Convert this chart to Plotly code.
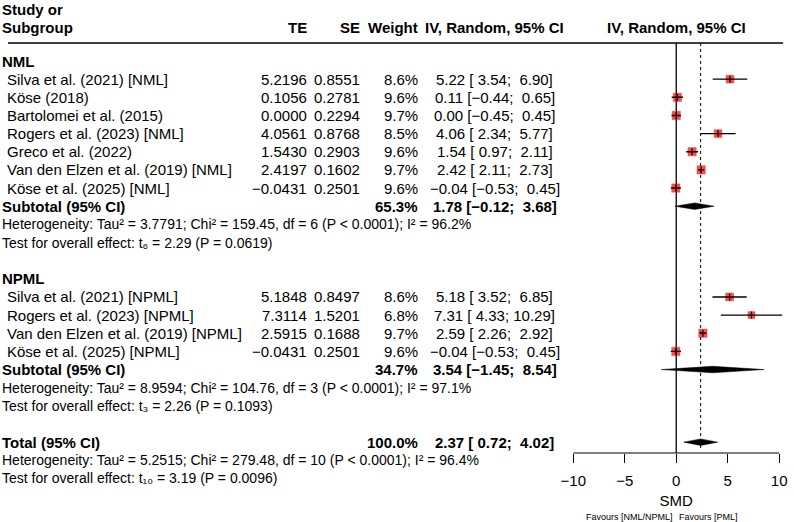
import plotly.graph_objects as go

# ---------------- data ----------------
nml_studies = ["Silva et al. (2021) [NML]", "Köse (2018)", "Bartolomei et al. (2015)",
               "Rogers et al. (2023) [NML]", "Greco et al. (2022)",
               "Van den Elzen et al. (2019) [NML]", "Köse et al. (2025) [NML]"]
nml_te = [5.2196, 0.1056, 0.0000, 4.0561, 1.5430, 2.4197, -0.0431]
nml_se = [0.8551, 0.2781, 0.2294, 0.8768, 0.2903, 0.1602, 0.2501]
nml_w = [8.6, 9.6, 9.7, 8.5, 9.6, 9.7, 9.6]
nml_est = [5.22, 0.11, 0.00, 4.06, 1.54, 2.42, -0.04]
nml_lo = [3.54, -0.44, -0.45, 2.34, 0.97, 2.11, -0.53]
nml_hi = [6.90, 0.65, 0.45, 5.77, 2.11, 2.73, 0.45]

npml_studies = ["Silva et al. (2021) [NPML]", "Rogers et al. (2023) [NPML]",
                "Van den Elzen et al. (2019) [NPML]", "Köse et al. (2025) [NPML]"]
npml_te = [5.1848, 7.3114, 2.5915, -0.0431]
npml_se = [0.8497, 1.5201, 0.1688, 0.2501]
npml_w = [8.6, 6.8, 9.7, 9.6]
npml_est = [5.18, 7.31, 2.59, -0.04]
npml_lo = [3.52, 4.33, 2.26, -0.53]
npml_hi = [6.85, 10.29, 2.92, 0.45]

# pooled: NML subtotal, NPML subtotal, Total
pooled_labels = ["Subtotal (95% CI)", "Subtotal (95% CI)", "Total (95% CI)"]
pooled_w = [65.3, 34.7, 100.0]
pooled_est = [1.78, 3.54, 2.37]
pooled_lo = [-0.12, -1.45, 0.72]
pooled_hi = [3.68, 8.54, 4.02]
het_tau2 = ["3.7791", "8.9594", "5.2515"]
het_chi2 = ["159.45", "104.76", "279.48"]
het_df = ["6", "3", "10"]
het_p = ["< 0.0001", "< 0.0001", "< 0.0001"]
het_i2 = ["96.2%", "97.1%", "96.4%"]
test_t = ["2.29", "2.26", "3.19"]
test_p = ["0.0619", "0.1093", "0.0096"]

x_ticks = [-10, -5, 0, 5, 10]

# ---------------- layout helpers ----------------
W, H = 794, 522
ROW0, DY = 61.0, 18.15          # pixel y of row 0 and row spacing


def row_of(px):
    return (px - ROW0) / DY


def px_x(px):
    return px / W


MINUS = "\u2212"
NB = "\u00a0"
SUB = str.maketrans("0123456789", "₀₁₂₃₄₅₆₇₈₉")


def f2(v):
    return f"{v:.2f}".replace("-", MINUS)


def f4(v):
    return f"{v:.4f}".replace("-", MINUS)


def ci_str(e, l, h):
    s = f"{f2(e)} [{f2(l):>5}; {f2(h):>5}]"
    return s.replace(" ", NB)


FONT = "Liberation Sans, Arial, sans-serif"
FS = 15
FS_HET = 14

fig = go.Figure()
ann = []


def text(x, y, s, anchor="left", bold=False, size=FS, xref="paper", yref="y", xshift=0):
    if bold:
        s = f"<b>{s}</b>"
    ann.append(dict(x=x, y=y, xref=xref, yref=yref, text=s, showarrow=False,
                    xanchor=anchor, yanchor="middle", xshift=xshift, borderpad=0, borderwidth=0,
                    font=dict(family=FONT, size=size, color="black")))


# column positions (pixels)
X_LEFT, X_STUDY, X_TE, X_SE, X_W, X_CI = -6, -1, 304, 357, 416, 494

# header
r_h1, r_h2 = row_of(9), row_of(27)
text(px_x(X_LEFT), r_h1, "Study or", bold=True)
text(px_x(X_LEFT), r_h2, "Subgroup", bold=True)
text(px_x(X_TE), r_h2, "TE", anchor="right", bold=True)
text(px_x(X_SE), r_h2, "SE", anchor="right", bold=True)
text(px_x(X_W), r_h2, "Weight", anchor="right", bold=True)
text(px_x(X_CI), r_h2, "IV, Random, 95% CI", anchor="center", bold=True)
text(0, r_h2, "IV, Random, 95% CI", anchor="center", bold=True, xref="x")

groups = [
    ("NML", nml_studies, nml_te, nml_se, nml_w, nml_est, nml_lo, nml_hi, 0),
    ("NPML", npml_studies, npml_te, npml_se, npml_w, npml_est, npml_lo, npml_hi, 12),
]

sq_x, sq_y, sq_s = [], [], []
ci_x, ci_y = [], []
dia_rows = []

for gi, (gname, st, te, se, w, est, lo, hi, r0) in enumerate(groups):
    text(px_x(X_LEFT), r0, gname, bold=True)
    for i in range(len(st)):
        r = r0 + 1 + i
        text(px_x(X_STUDY), r, st[i])
        text(px_x(X_TE), r, f4(te[i]), anchor="right")
        text(px_x(X_SE), r, f"{se[i]:.4f}", anchor="right")
        text(px_x(X_W), r, f"{w[i]:.1f}%", anchor="right")
        text(px_x(X_CI), r, ci_str(est[i], lo[i], hi[i]), anchor="center")
        sq_x.append(est[i]); sq_y.append(r); sq_s.append(8.0 * (w[i] / 9.0) ** 0.5)
        ci_x += [lo[i], hi[i], None]; ci_y += [r, r, None]
    rs = r0 + 1 + len(st)
    dia_rows.append(rs)

dia_rows.append(21)
for k in range(3):
    rs = dia_rows[k]
    text(px_x(X_LEFT), rs, pooled_labels[k], bold=True)
    text(px_x(X_W), rs, f"{pooled_w[k]:.1f}%", anchor="right", bold=True)
    text(px_x(X_CI), rs, ci_str(pooled_est[k], pooled_lo[k], pooled_hi[k]), anchor="center", bold=True)
    text(px_x(X_LEFT), rs + 1,
         f"Heterogeneity: Tau² = {het_tau2[k]}; Chi² = {het_chi2[k]}, "
         f"df = {het_df[k]} (P {het_p[k]}); I² = {het_i2[k]}", size=FS_HET)
    text(px_x(X_LEFT), rs + 2,
         f"Test for overall effect: t{het_df[k].translate(SUB)} = {test_t[k]} (P = {test_p[k]})",
         size=FS_HET)

# favours labels
fav_y = 1 - 517 / H
text(0, fav_y, "Favours [NML/NPML]", anchor="right", size=9, xref="x", yref="paper", xshift=-3)
text(0, fav_y, "Favours [PML]", anchor="left", size=9, xref="x", yref="paper", xshift=3)

r_top = row_of(43)
r_axis = row_of(453)

# reference lines
fig.add_trace(go.Scatter(x=[0, 0], y=[r_top, r_axis], mode="lines",
                         line=dict(color="black", width=1.3), hoverinfo="skip", showlegend=False))
fig.add_trace(go.Scatter(x=[pooled_est[2], pooled_est[2]], y=[r_top, 21.4], mode="lines",
                         line=dict(color="black", width=1, dash="dot"), hoverinfo="skip", showlegend=False))

# squares
fig.add_trace(go.Scatter(x=sq_x, y=sq_y, mode="markers",
                         marker=dict(symbol="square", size=sq_s, color="#ff0000",
                                     line=dict(color="#cc0000", width=0.5)),
                         hoverinfo="skip", showlegend=False))
# CI lines
fig.add_trace(go.Scatter(x=ci_x, y=ci_y, mode="lines", line=dict(color="black", width=1.4),
                         hoverinfo="skip", showlegend=False))
fig.add_trace(go.Scatter(x=sq_x, y=sq_y, mode="markers",
                         marker=dict(symbol="line-ns", size=5, line=dict(color="black", width=1.2)),
                         hoverinfo="skip", showlegend=False))

# diamonds
hh = 0.18
for k in range(3):
    r = dia_rows[k]
    fig.add_trace(go.Scatter(
        x=[pooled_lo[k], pooled_est[k], pooled_hi[k], pooled_est[k], pooled_lo[k]],
        y=[r, r - hh, r, r + hh, r], mode="lines", fill="toself",
        fillcolor="black", line=dict(color="black", width=0.5),
        hoverinfo="skip", showlegend=False))

# header rule
shapes = [dict(type="line", xref="paper", yref="y", x0=0, x1=787 / W, y0=r_top, y1=r_top,
               line=dict(color="black", width=1.6))]
# axis line from -10 to 10
ax_pos = 1 - 453 / H
shapes.append(dict(type="line", xref="x", yref="paper", x0=x_ticks[0], x1=x_ticks[-1],
                   y0=ax_pos, y1=ax_pos, line=dict(color="black", width=1.2)))

ext = 0.45
x_px0 = 574 - ext * 10.45
x_px1 = 783 + ext * 10.45

fig.update_layout(
    width=W, height=H, margin=dict(l=0, r=0, t=0, b=0),
    paper_bgcolor="white", plot_bgcolor="white",
    font=dict(family=FONT, size=FS, color="black"),
    annotations=ann, shapes=shapes, showlegend=False,
    xaxis=dict(domain=[x_px0 / W, x_px1 / W], range=[x_ticks[0] - ext, x_ticks[-1] + ext],
               tickvals=x_ticks, ticktext=[str(v).replace("-", MINUS) for v in x_ticks],
               ticks="outside", ticklen=9, tickwidth=1.2, tickcolor="black",
               ticklabelstandoff=5,
               showline=False, showgrid=False, zeroline=False,
               anchor="free", position=ax_pos,
               tickfont=dict(family=FONT, size=FS, color="black"),
               title=dict(text="SMD", font=dict(family=FONT, size=FS, color="black"), standoff=7)),
    yaxis=dict(domain=[0, 1], range=[row_of(H), row_of(0)], visible=False,
               showgrid=False, zeroline=False),
)

fig.write_html("out.html")
